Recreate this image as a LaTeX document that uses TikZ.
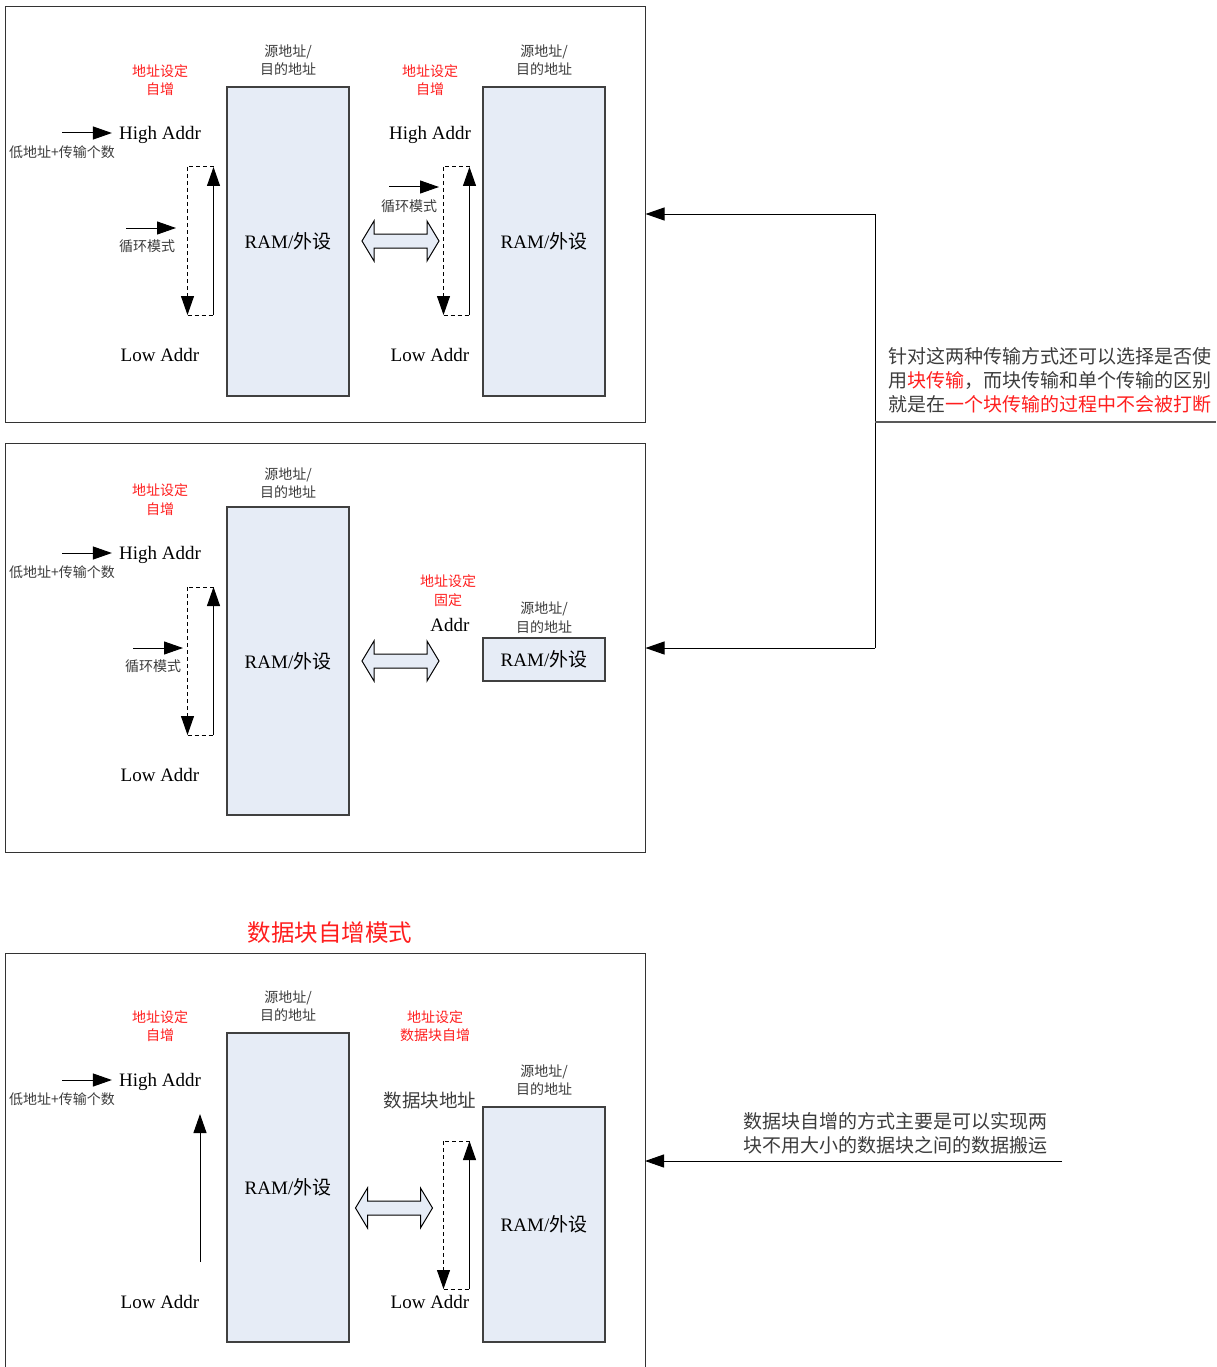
\documentclass[tikz,border=0pt]{standalone}
\usepackage{fontspec}
\setmainfont{Liberation Serif}
\newfontfamily\cjk{Noto Sans CJK SC}
\usetikzlibrary{arrows.meta}
\definecolor{ramfill}{RGB}{230,236,246}
\definecolor{redc}{RGB}{255,30,30}
\definecolor{txtgray}{RGB}{60,60,60}
\tikzset{
  panel/.style={draw=black!80, line width=1pt, inner sep=0, minimum width=640pt},
  ram/.style={draw=black!75, fill=ramfill, line width=1.2pt, minimum width=122pt, inner sep=0,
              font=\fontsize{19}{24}\selectfont},
  lbl/.style={font=\cjk\fontsize{14}{18.5}\selectfont, text=txtgray, align=center, inner sep=0},
  redlbl/.style={font=\cjk\fontsize{14}{18.5}\selectfont, text=redc, align=center, inner sep=0},
  addr/.style={font=\fontsize{19}{24}\selectfont, inner sep=0},
  arr/.style={line width=1pt, -{Triangle[length=19pt,width=13pt]}},
  dsh/.style={dash pattern=on 4pt off 3pt, line width=1pt},
  dblarr/.style={draw=black, fill=ramfill, line width=1pt, line join=miter},
  pics/dblarrow/.style={code={
    \draw[dblarr] (-38.5,0) -- (-26.5,-20) -- (-26.5,-7) -- (26.5,-7) -- (26.5,-20) -- (38.5,0)
      -- (26.5,20) -- (26.5,7) -- (-26.5,7) -- (-26.5,20) -- cycle;}},
  pics/addrloop/.style={code={
    \draw[dsh] (26,0) -- (0,0);
    \draw[dsh,arr] (0,0) -- (0,148);
    \draw[dsh] (0,148) -- (26,148);
    \draw[arr] (26,148) -- (26,0);}}
}
\begin{document}
\begin{tikzpicture}[x=1pt,y=-1pt]
\useasboundingbox (0,0) rectangle (1216,1367);

% ---------------- panel 1 ----------------
\node[panel, minimum height=415pt] (p1) at (325,214.5) {};
\node[ram, minimum height=309pt] (r1a) at (288,241.5) {RAM/{\cjk 外设}};
\node[ram, minimum height=309pt] (r1b) at (544,241.5) {RAM/{\cjk 外设}};
\node[lbl] (s1a) at (288,60) {源地址/\\目的地址};
\node[lbl] (s1b) at (544,60) {源地址/\\目的地址};
\node[redlbl] (m1a) at (160,80) {地址设定\\自增};
\node[redlbl] (m1b) at (430,80) {地址设定\\自增};
\node[addr] (h1a) at (160,135) {High Addr};
\node[addr] (h1b) at (430,135) {High Addr};
\node[addr] (l1a) at (160,355) {Low Addr};
\node[addr] (l1b) at (430,355) {Low Addr};
\node[lbl] (n1a) at (62,152) {低地址+传输个数};
\coordinate (a1s) at (62,133);
\draw[arr, shorten >=7pt] (a1s) -- (a1s -| h1a.west);
\pic at (187.5,167) {addrloop};
\pic at (443.5,167) {addrloop};
\coordinate (c1s) at (126,228); \coordinate (c1e) at (176,228);
\draw[arr] (c1s) -- (c1e);
\node[lbl] (cl1a) at (147,246) {循环模式};
\coordinate (c2s) at (389,187); \coordinate (c2e) at (439,187);
\draw[arr] (c2s) -- (c2e);
\node[lbl] (cl1b) at (409,206) {循环模式};
\pic at (400.5,241) {dblarrow};

% ---------------- panel 2 ----------------
\node[panel, minimum height=409pt] (p2) at (325,647.5) {};
\node[ram, minimum height=308pt] (r2a) at (288,661) {RAM/{\cjk 外设}};
\node[ram, minimum height=43pt] (r2b) at (544,659.5) {RAM/{\cjk 外设}};
\node[lbl] (s2a) at (288,483) {源地址/\\目的地址};
\node[lbl] (s2b) at (544,617.5) {源地址/\\目的地址};
\node[redlbl] (m2a) at (160,499.5) {地址设定\\自增};
\node[redlbl] (m2b) at (448,590.5) {地址设定\\固定};
\node[addr] (h2a) at (160,555) {High Addr};
\node[addr] (ad2) at (450,625) {Addr};
\node[addr] (l2a) at (160,775) {Low Addr};
\node[lbl] (n2a) at (62,572) {低地址+传输个数};
\coordinate (a2s) at (62,553);
\draw[arr, shorten >=7pt] (a2s) -- (a2s -| h2a.west);
\pic at (187.5,587) {addrloop};
\coordinate (c3s) at (133,648); \coordinate (c3e) at (183,648);
\draw[arr] (c3s) -- (c3e);
\node[lbl] (cl2a) at (153,666) {循环模式};
\pic at (400.5,661) {dblarrow};

% ---------------- right connector ----------------
\coordinate (j1) at (875,214);
\coordinate (j2) at (875,648);
\coordinate (j3) at (875,422);
\coordinate (jr) at (1216,422);
\draw[line width=1pt] (j1) -- (j2);
\draw[arr] (j1) -- (j1 -| p1.east);
\draw[arr] (j2) -- (j2 -| p2.east);
\draw[line width=1.4pt, draw=black!65] (j3) -- (jr);
\node[font=\cjk\fontsize{19}{24}\selectfont, text=txtgray, align=left, anchor=west, inner sep=0] (note1) at (888,380)
  {针对这两种传输方式还可以选择是否使\\用\textcolor{redc}{块传输}，而块传输和单个传输的区别\\就是在\textcolor{redc}{一个块传输的过程中不会被打断}};

% ---------------- title ----------------
\node[font=\cjk\fontsize{23.5}{28}\selectfont, text=redc, inner sep=0] (title) at (330,933) {数据块自增模式};

% ---------------- panel 3 ----------------
\coordinate (p3sw) at (5,1370);
\coordinate (p3nw) at (5,953);
\coordinate (p3ne) at (645,953);
\coordinate (p3se) at (645,1370);
\draw[draw=black!80, line width=1pt] (p3sw) -- (p3nw) -- (p3ne) -- (p3se);
\node[ram, minimum height=309pt] (r3a) at (288,1187.5) {RAM/{\cjk 外设}};
\node[ram, minimum height=235pt] (r3b) at (544,1224.5) {RAM/{\cjk 外设}};
\node[lbl] (s3a) at (288,1006) {源地址/\\目的地址};
\node[lbl] (s3b) at (544,1080) {源地址/\\目的地址};
\node[redlbl] (m3a) at (160,1026) {地址设定\\自增};
\node[redlbl] (m3b) at (435,1026) {地址设定\\数据块自增};
\node[addr] (h3a) at (160,1082) {High Addr};
\node[addr, font=\cjk\fontsize{18.5}{24}\selectfont, text=txtgray] (db3) at (430,1100) {数据块地址};
\node[addr] (l3a) at (160,1302) {Low Addr};
\node[addr] (l3b) at (430,1302) {Low Addr};
\node[lbl] (n3a) at (62,1099) {低地址+传输个数};
\coordinate (a3s) at (62,1080);
\draw[arr, shorten >=7pt] (a3s) -- (a3s -| h3a.west);
\coordinate (u3s) at (200,1262); \coordinate (u3e) at (200,1114);
\draw[arr] (u3s) -- (u3e);
\pic at (443.5,1141) {addrloop};
\pic at (394,1208) {dblarrow};
\coordinate (b3) at (1062,1161);
\draw[arr] (b3) -- (b3 -| p3ne);
\node[font=\cjk\fontsize{19}{24}\selectfont, text=txtgray, align=left, anchor=west, inner sep=0] (note2) at (743,1133)
  {数据块自增的方式主要是可以实现两\\块不用大小的数据块之间的数据搬运};
\end{tikzpicture}
\end{document}
